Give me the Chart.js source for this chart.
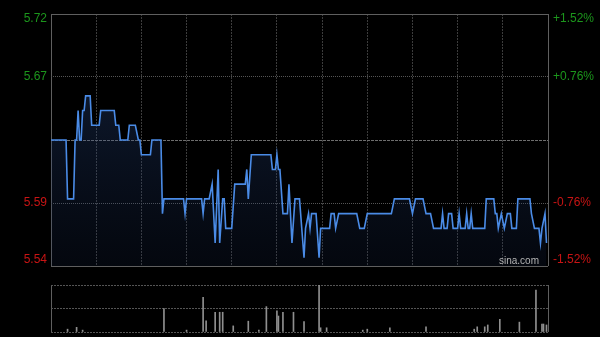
<!DOCTYPE html>
<html><head><meta charset="utf-8">
<script src="https://cdn.jsdelivr.net/npm/chart.js@4.4.0/dist/chart.umd.min.js"></script>
<style>
html,body{margin:0;padding:0;background:#000;width:600px;height:337px;overflow:hidden;}
#main{position:absolute;left:0;top:0;}
#vol{position:absolute;left:0;top:272px;}
#wm{position:absolute;left:499px;top:255px;font:10px "Liberation Sans",Arial,sans-serif;color:#b4b4b4;line-height:12px;}
</style></head><body>
<canvas id="main" width="600" height="272"></canvas>
<canvas id="vol" width="600" height="65"></canvas>
<div id="wm">sina.com</div>
<script>
// ---- data ----
const prevClose = 5.63;
const rangePct = 1.52;
const sessionMinutes = 330;            // HK session 9:30-12:00, 13:00-16:00
const gridMinutes = [0,30,60,90,120,150,180,210,240,270,300,330];
const tickPct = [-1.52,-0.76,0.76,1.52];
const leftTickLabels = ['5.54','5.59','5.67','5.72'];
const rightTickLabels = ['-1.52%','-0.76%','+0.76%','+1.52%'];

const priceMinutes = [0,10,11,15,16,17,18,19,20,21,22,23,26,27,32,33,42,43,45,46,51,52,56,58,59,60,66,67,73,74,75,
  88,89,90,100,101,102,105,107,109,111,112,114,115,116,120,122,129,130,131,133,146,147,149,150,151,152,154,157,158,160,
  162,165,168,169,171,172,173,176,178,179,185,186,188,189,191,203,205,208,210,226,228,238,240,242,247,249,252,254,259,
  260,261,263,264,266,267,270,271,272,275,276,277,278,279,280,288,289,294,295,296,297,299,301,303,305,306,309,310,318,
  319,321,324,325,326,328,329];
const prices = [5.63,5.63,5.59,5.59,5.63,5.63,5.65,5.63,5.63,5.65,5.65,5.66,5.66,5.64,5.64,5.65,5.65,5.64,5.64,5.63,5.63,5.64,5.64,5.63,5.63,5.62,5.62,5.63,5.63,5.58,5.59,
  5.59,5.58,5.59,5.59,5.58,5.59,5.59,5.60,5.56,5.61,5.56,5.59,5.59,5.57,5.57,5.60,5.60,5.61,5.59,5.62,5.62,5.61,5.61,5.62,5.61,5.61,5.58,5.58,5.60,5.56,
  5.59,5.59,5.55,5.57,5.58,5.57,5.58,5.58,5.55,5.57,5.57,5.58,5.58,5.57,5.58,5.58,5.57,5.57,5.58,5.58,5.59,5.59,5.58,5.59,5.59,5.58,5.58,5.57,5.57,
  5.58,5.57,5.57,5.58,5.58,5.57,5.57,5.58,5.57,5.57,5.58,5.57,5.57,5.58,5.57,5.57,5.59,5.59,5.58,5.58,5.57,5.58,5.57,5.58,5.58,5.57,5.57,5.59,5.59,
  5.58,5.57,5.57,5.56,5.57,5.58,5.56];

const volMinutes = [11,17,21,75,90,101,103,109,112,114,121,131,138,143,150,151,154,161,168,178,179,183,207,210,225,249,281,283,288,290,298,311,322,326,327,329];
const volumes    = [6,10,4,50,4,74,24,42,42,42,13,23,4,54,45,34,42,42,22,100,9,9,4,6,9,11,6,11,11,15,27,21,89,17,17,15];
const volMax = 100;

// ---- helpers ----
const yMin = prevClose*(1-rangePct/100), yMax = prevClose*(1+rangePct/100);
const plotH = 252;
const inset = (px) => (yMax-yMin)*px/plotH;
const zeroPad = s => { s.paddingTop=0; s.paddingBottom=0; s.paddingLeft=0; s.paddingRight=0; };
const labelFont = {family:'"Liberation Sans Narrow","Arial Narrow","Liberation Sans",Arial,sans-serif', size:12};
const up = '#1c961c', down = '#c81414';

function labelTicks(s){
  s.ticks = tickPct.map((p,i)=>{
    let v = prevClose*(1+p/100);
    if (i===tickPct.length-1) v -= inset(5);
    if (i===0) v += inset(6);
    return {value:v};
  });
}
const labelColor = ctx => tickPct[ctx.index] > 0 ? up : down;

new Chart(document.getElementById('main'), {
  type:'line',
  data:{datasets:[{
    data: priceMinutes.map((m,i)=>({x:m,y:prices[i]})),
    borderColor:'#4a8be6', borderWidth:1.6, pointRadius:0, tension:0,
    fill:'start',
    backgroundColor: ctx => {
      const a = ctx.chart.chartArea; if(!a) return 'rgba(0,0,0,0)';
      const g = ctx.chart.ctx.createLinearGradient(0,a.top,0,a.bottom);
      g.addColorStop(0,'rgba(50,90,160,0.38)'); g.addColorStop(1,'rgba(25,45,90,0.16)');
      return g;
    },
    xAxisID:'x', yAxisID:'y'
  }]},
  options:{
    responsive:false, animation:false, devicePixelRatio:1,
    layout:{padding:{top:14,bottom:6,left:0,right:0}},
    plugins:{legend:{display:false}, tooltip:{enabled:false}},
    scales:{
      x:{type:'linear', min:0, max:sessionMinutes,
        afterBuildTicks: s=>{ s.ticks = gridMinutes.map(v=>({value:v})); },
        ticks:{display:false},
        grid:{drawTicks:false, lineWidth:1,
          color: ctx => (ctx.index===0||ctx.index===gridMinutes.length-1) ? '#5f5f5f' : '#3c3c3c'},
        border:{display:false, dash: ctx => (ctx.type==='tick' && ctx.index>0 && ctx.index<gridMinutes.length-1) ? [2,1] : []},
        afterFit: s=>{ s.height=0; zeroPad(s); }
      },
      y:{type:'linear', position:'left', min:yMin, max:yMax,
        afterBuildTicks: s=>{ s.ticks = [yMin, prevClose*(1-0.0076), prevClose, prevClose*(1+0.0076), yMax].map(v=>({value:v})); },
        ticks:{display:false},
        grid:{drawTicks:false, lineWidth:1,
          color: ctx => (ctx.index===0||ctx.index===4) ? '#5f5f5f' : (ctx.index===2 ? '#6e6e6e' : '#555555')},
        border:{display:false, dash: ctx => ctx.type!=='tick' ? [] : (ctx.index===2 ? [3,1] : ((ctx.index===1||ctx.index===3) ? [1,1] : []))},
        afterFit: s=>{ s.width=0; zeroPad(s); }
      },
      yl:{type:'linear', position:'left', min:yMin, max:yMax,
        afterBuildTicks: labelTicks,
        ticks:{callback:(v,i)=>leftTickLabels[i], color:labelColor, font:labelFont, padding:4, autoSkip:false},
        grid:{display:false, drawTicks:false}, border:{display:false},
        afterFit: s=>{ s.width=51; zeroPad(s); }
      },
      yr:{type:'linear', position:'right', min:yMin, max:yMax,
        afterBuildTicks: labelTicks,
        ticks:{callback:(v,i)=>rightTickLabels[i], color:labelColor, font:labelFont, padding:5, autoSkip:false},
        grid:{display:false, drawTicks:false}, border:{display:false},
        afterFit: s=>{ s.width=52; zeroPad(s); }
      }
    }
  }
});

new Chart(document.getElementById('vol'), {
  type:'bar',
  data:{datasets:[{
    data: volMinutes.map((m,i)=>({x:m,y:volumes[i]})),
    backgroundColor:'#8f8f8f', borderWidth:0, barThickness:1
  }]},
  options:{
    responsive:false, animation:false, devicePixelRatio:1,
    layout:{padding:{top:13,bottom:5,left:51,right:52}},
    plugins:{legend:{display:false}, tooltip:{enabled:false}},
    scales:{
      x:{type:'linear', min:0, max:sessionMinutes, offset:false,
        afterBuildTicks: s=>{ s.ticks = [{value:0},{value:sessionMinutes}]; },
        ticks:{display:false},
        grid:{offset:false, drawTicks:false, color:'#5f5f5f'},
        border:{display:false},
        afterFit: s=>{ s.height=0; zeroPad(s); }
      },
      y:{type:'linear', min:0, max:volMax,
        afterBuildTicks: s=>{ s.ticks = [0, volMax/2, volMax].map(v=>({value:v})); },
        ticks:{display:false},
        grid:{drawTicks:false, color:'#555555'},
        border:{display:false, dash: ctx => ctx.type==='tick' ? [2,1] : []},
        afterFit: s=>{ s.width=0; zeroPad(s); }
      }
    }
  }
});
</script>
</body></html>
